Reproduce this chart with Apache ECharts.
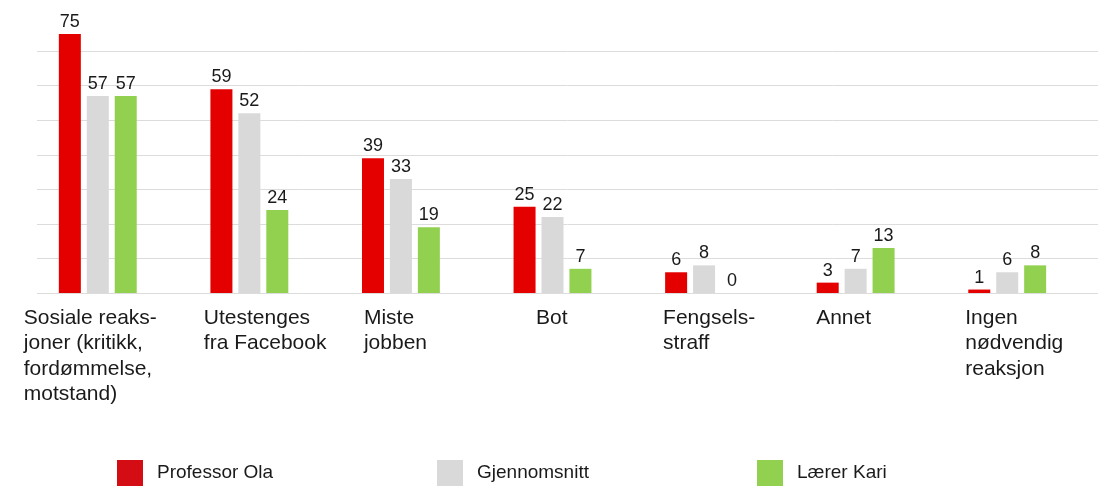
<!DOCTYPE html>
<html>
<head>
<meta charset="utf-8">
<script src="https://cdn.jsdelivr.net/npm/echarts@6/dist/echarts.min.js"></script>
<style>
html,body{margin:0;padding:0;background:#fff;}
#chart{width:1102px;height:486px;}
</style>
</head>
<body>
<div id="chart"></div>
<script>
const categories = [
  'Sosiale reaks-\njoner (kritikk,\nfordømmelse,\nmotstand)',
  'Utestenges\nfra Facebook',
  'Miste\njobben',
  'Bot',
  'Fengsels-\nstraff',
  'Annet',
  'Ingen\nnødvendig\nreaksjon'
];
const seriesNames = ['Professor Ola', 'Gjennomsnitt', 'Lærer Kari'];
const professorOla = [75, 59, 39, 25, 6, 3, 1];
const gjennomsnitt = [57, 52, 33, 22, 8, 7, 6];
const larerKari = [57, 24, 19, 7, 0, 13, 8];
const yTicks = [0, 10, 20, 30, 40, 50, 60, 70, 80];

const colors = ['#e50000', '#d9d9d9', '#92d050'];
const legendColors = ['#d40c14', '#d9d9d9', '#92d050'];
const FONT = "'Liberation Sans', Arial, Helvetica, sans-serif";
const TXT = '#1a1a1a';

// label block widths (to keep lines left-aligned within a centered block)
const labelBoxWidths = [148, 91, 74, 33, 82, 79, 84];
const rich = {};
labelBoxWidths.forEach((w, i) => {
  rich['c' + i] = { width: w, align: 'left', fontSize: 21, lineHeight: 25.5, color: TXT, fontFamily: FONT };
});

const chart = echarts.init(document.getElementById('chart'), null, { renderer: 'canvas' });

const gridColors = yTicks.map((t, i) => i === yTicks.length - 1 ? 'rgba(0,0,0,0)' : '#dcdcdc');

function mkSeries(name, data, idx) {
  return {
    name: name,
    type: 'bar',
    xAxisIndex: 0,
    yAxisIndex: 0,
    data: data,
    barWidth: 22,
    barGap: '27%',
    itemStyle: { color: colors[idx] },
    label: {
      show: true,
      position: 'top',
      distance: 3,
      fontSize: 18,
      color: TXT,
      fontFamily: FONT
    }
  };
}

function mkLegend(i, left) {
  return {
    left: left,
    top: 460,
    padding: 0,
    icon: 'rect',
    itemWidth: 26,
    itemHeight: 26,
    data: [{ name: seriesNames[i], itemStyle: { color: legendColors[i] } }],
    textStyle: { fontSize: 19, color: TXT, fontFamily: FONT, padding: [0, 0, 0, 9] },
    selectedMode: false
  };
}

chart.setOption({
  animation: false,
  backgroundColor: '#ffffff',
  textStyle: { fontFamily: FONT },
  grid: [
    { left: 22, right: 19, top: 16.6, bottom: 193 },
    { left: 37, right: 4, top: 16.6, bottom: 193 }
  ],
  legend: [mkLegend(0, 117), mkLegend(1, 437), mkLegend(2, 757)],
  xAxis: [
    {
      type: 'category',
      gridIndex: 0,
      data: categories,
      axisLine: { show: false },
      axisTick: { show: false },
      axisLabel: {
        interval: 0,
        margin: 12,
        align: 'center',
        verticalAlign: 'top',
        formatter: function (value, index) { return '{c' + index + '|' + value + '}'; },
        rich: rich
      }
    },
    {
      type: 'value',
      gridIndex: 1,
      show: false,
      min: 0,
      max: 1
    }
  ],
  yAxis: [
    {
      type: 'value',
      gridIndex: 0,
      min: yTicks[0],
      max: yTicks[yTicks.length - 1],
      interval: 10,
      show: false,
      splitLine: { show: false }
    },
    {
      type: 'value',
      gridIndex: 1,
      min: yTicks[0],
      max: yTicks[yTicks.length - 1],
      interval: 10,
      axisLine: { show: false },
      axisTick: { show: false },
      axisLabel: { show: false },
      splitLine: { show: true, lineStyle: { color: gridColors, width: 1 } }
    }
  ],
  series: [
    mkSeries(seriesNames[0], professorOla, 0),
    mkSeries(seriesNames[1], gjennomsnitt, 1),
    mkSeries(seriesNames[2], larerKari, 2)
  ]
});
</script>
</body>
</html>
